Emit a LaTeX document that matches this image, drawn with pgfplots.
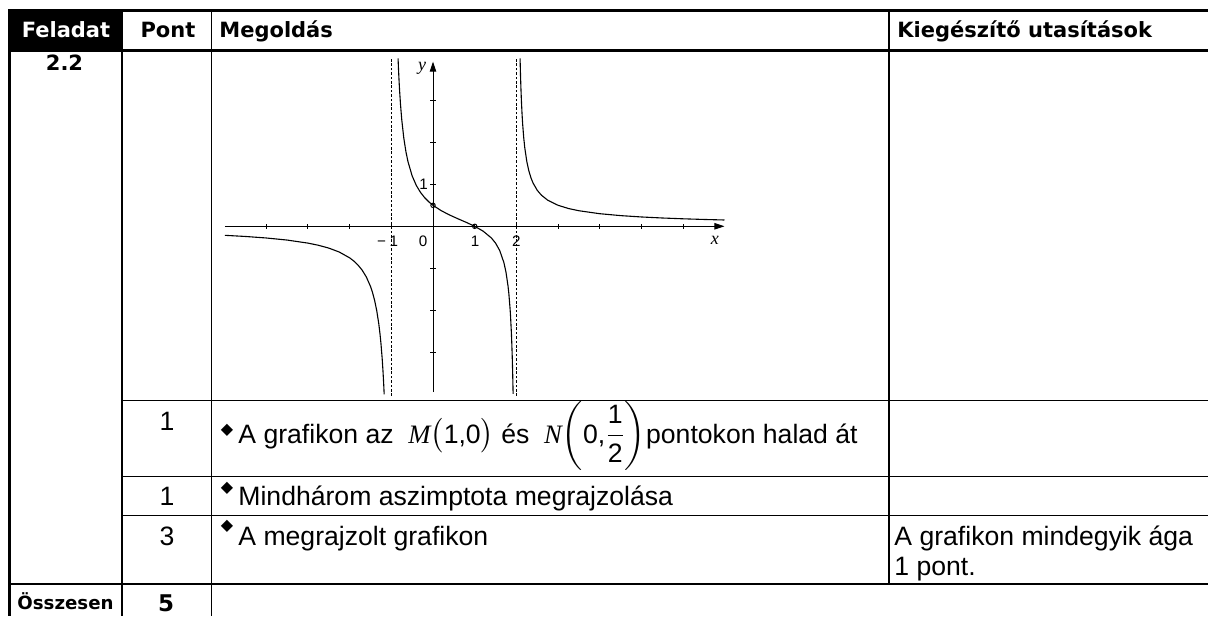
\documentclass[border=0pt]{standalone}
\usepackage{amsmath}
\usepackage{fontspec}
\setmainfont{Liberation Sans}
\newfontfamily\heavy{DejaVu Sans}
\newfontfamily\lserif{Liberation Serif}
\newfontfamily\dejavu{DejaVu Sans}
\usepackage{pgfplots}
\pgfplotsset{compat=1.18}
\usetikzlibrary{arrows.meta}
\newcommand{\body}{\fontsize{13.3pt}{15.5pt}\selectfont}
\newcommand{\hdr}{\heavy\bfseries\fontsize{10.5pt}{12pt}\selectfont}
\newcommand{\bul}{\dejavu\fontsize{8pt}{9pt}\selectfont}
\newcommand{\tlab}{\fontsize{7.6pt}{8pt}\selectfont}
\begin{document}
\begin{tikzpicture}
\begin{scope}[x=0.5pt,y=-0.5pt]
\useasboundingbox (0,0) rectangle (1208,616);
\fill[black] (8,9.5) rectangle (122,50);
\draw[line width=1.4pt] (8,10.5) -- (1208,10.5);
\draw[line width=1.4pt] (8,50.5) -- (1208,50.5);
\draw[line width=1.4pt] (9.6,9.5) -- (9.6,616);
\draw[line width=0.6pt] (122,10) -- (122,616);
\draw[line width=0.6pt] (211.3,10) -- (211.3,616);
\draw[line width=0.6pt] (889,10) -- (889,584);
\draw[line width=0.6pt] (122,400.7) -- (1208,400.7);
\draw[line width=0.6pt] (122,476.7) -- (1208,476.7);
\draw[line width=0.6pt] (122,515.3) -- (1208,515.3);
\draw[line width=0.6pt] (9,584) -- (1208,584);
% header
\node[anchor=base, inner sep=0, text=white, font=\hdr] at (66,37) {Feladat};
\node[anchor=base, inner sep=0, font=\hdr] at (168,37) {Pont};
\node[anchor=base west, inner sep=0, font=\hdr] at (219,37) {Megoldás};
\node[anchor=base west, inner sep=0, font=\hdr] at (897,37) {Kiegészítő utasítások};
\node[anchor=base, inner sep=0, font=\hdr] at (64.5,70) {2.2};
% row 1
\node[anchor=base, inner sep=0, font=\body] at (167,430) {1};
\node[inner sep=0, font=\bul] at (227,430) {◆};
\node[anchor=base west, inner sep=0, font=\body] at (238,443) {A grafikon az\ \ {\lserif\itshape M}$\bigl($1,0$\bigr)$\ és\ \ {\lserif\itshape N}$\left(\mbox{0,}\dfrac{\mbox{1}}{\mbox{2}}\right)$pontokon halad át};
% row 2
\node[anchor=base, inner sep=0, font=\body] at (167,505) {1};
\node[inner sep=0, font=\bul] at (227,488) {◆};
\node[anchor=base west, inner sep=0, font=\body] at (238,505) {Mindhárom aszimptota megrajzolása};
% row 3
\node[anchor=base, inner sep=0, font=\body] at (167,545) {3};
\node[inner sep=0, font=\bul] at (227,526.5) {◆};
\node[anchor=base west, inner sep=0, font=\body] at (238,545) {A megrajzolt grafikon};
\node[anchor=base west, inner sep=0, font=\body] at (894,545) {A grafikon mindegyik ága};
\node[anchor=base west, inner sep=0, font=\body] at (894,575) {1 pont.};
% total
\node[anchor=base, inner sep=0, font=\heavy\bfseries\fontsize{9.1pt}{10pt}\selectfont] at (65.5,609) {Összesen};
\node[anchor=base, inner sep=0, font=\heavy\bfseries\fontsize{11.5pt}{12pt}\selectfont] at (166,611) {5};
\end{scope}
\begin{axis}[
  at={(216.5pt,-113.15pt)}, anchor=origin,
  x=20.85pt, y=21pt,
  xmin=-4.99, xmax=6.99, ymin=-3.95, ymax=3.92,
  axis lines=middle,
  axis line style={line width=0.5pt, -{Triangle[length=5pt,width=3.2pt]}},
  xtick={-4,-3,-2,-1,1,2,3,4,5,6},
  ytick={-3,-2,-1,1,2,3},
  xticklabels={}, yticklabels={},
  tick align=center, major tick length=2.6pt,
  tick style={black, line width=0.45pt},
  clip=false,
]
\addplot[black, line width=0.4pt, dash pattern=on 1.3pt off 0.9pt] coordinates {(-1,-4.04) (-1,4.02)};
\addplot[black, line width=0.4pt, dash pattern=on 1.3pt off 0.9pt] coordinates {(2,-4.04) (2,4.02)};
% left branch
\addplot[black, line width=0.55pt] coordinates {
(-4.99,-0.2148) (-4.5,-0.2418) (-4,-0.2778) (-3.5,-0.3273) (-3,-0.4) (-2.75,-0.4511)
(-2.5,-0.5185) (-2.25,-0.6118) (-2,-0.75) (-1.9,-0.8262) (-1.8,-0.9211) (-1.7,-1.0425)
(-1.6,-1.2037) (-1.5,-1.4286) (-1.45,-1.5781) (-1.4,-1.7647) (-1.35,-2.0043) (-1.3,-2.3232)
(-1.27,-2.5711) (-1.25,-2.7692) (-1.22,-3.1339) (-1.2,-3.4375) (-1.19,-3.6133) (-1.18,-3.8085)
(-1.171,-4.0)};
% middle branch
\addplot[black, line width=0.55pt] coordinates {
(-0.838,4.0) (-0.83,3.8038) (-0.82,3.5855) (-0.81,3.3901) (-0.8,3.2143) (-0.78,2.9104)
(-0.75,2.5455) (-0.7,2.0988) (-0.65,1.7790) (-0.6,1.5385) (-0.5,1.2) (-0.4,0.9722)
(-0.3,0.8075) (-0.2,0.6818) (-0.1,0.5820) (0,0.5) (0.2,0.3704) (0.4,0.2679) (0.6,0.1786)
(0.8,0.0926) (1,0) (1.2,-0.1136) (1.4,-0.2778) (1.5,-0.4) (1.6,-0.5769) (1.7,-0.8642)
(1.75,-1.0909) (1.8,-1.4286) (1.82,-1.6154) (1.85,-1.9883) (1.86,-2.1479) (1.88,-2.5463)
(1.89,-2.7996) (1.9,-3.1034) (1.91,-3.4746) (1.915,-3.6929) (1.921,-3.9912)};
% right branch
\addplot[black, line width=0.55pt] coordinates {
(2.088,4.0) (2.095,3.7242) (2.1,3.5484) (2.11,3.2447) (2.12,2.9915) (2.135,2.6818)
(2.15,2.4339) (2.175,2.1148) (2.2,1.875) (2.25,1.5385) (2.3,1.3131) (2.35,1.1514)
(2.4,1.0294) (2.5,0.8571) (2.6,0.7407) (2.75,0.6222) (3,0.5) (3.25,0.4235) (3.5,0.3704)
(4,0.3) (4.5,0.2545) (5,0.2222) (5.5,0.1978) (6,0.1786) (6.5,0.1630) (6.99,0.1502)};
\addplot[only marks, mark=o, mark size=1.1pt, mark options={line width=0.5pt, black}] coordinates {(0,0.5) (1,0)};
\node[font=\tlab, inner sep=0] at (axis cs:-1.09,-0.36) {−\hspace{1.8pt}1};
\node[font=\tlab, inner sep=0] at (axis cs:-0.24,-0.36) {0};
\node[font=\tlab, inner sep=0] at (axis cs:1.007,-0.36) {1};
\node[font=\tlab, inner sep=0] at (axis cs:2.0,-0.36) {2};
\node[font=\tlab, inner sep=0] at (axis cs:-0.228,1.0) {1};
\node[font=\lserif\itshape\fontsize{9pt}{9pt}\selectfont, inner sep=0] at (axis cs:6.76,-0.33) {x};
\node[font=\lserif\itshape\fontsize{9pt}{9pt}\selectfont, inner sep=0] at (axis cs:-0.26,3.75) {y};
\end{axis}
\end{tikzpicture}
\end{document}
